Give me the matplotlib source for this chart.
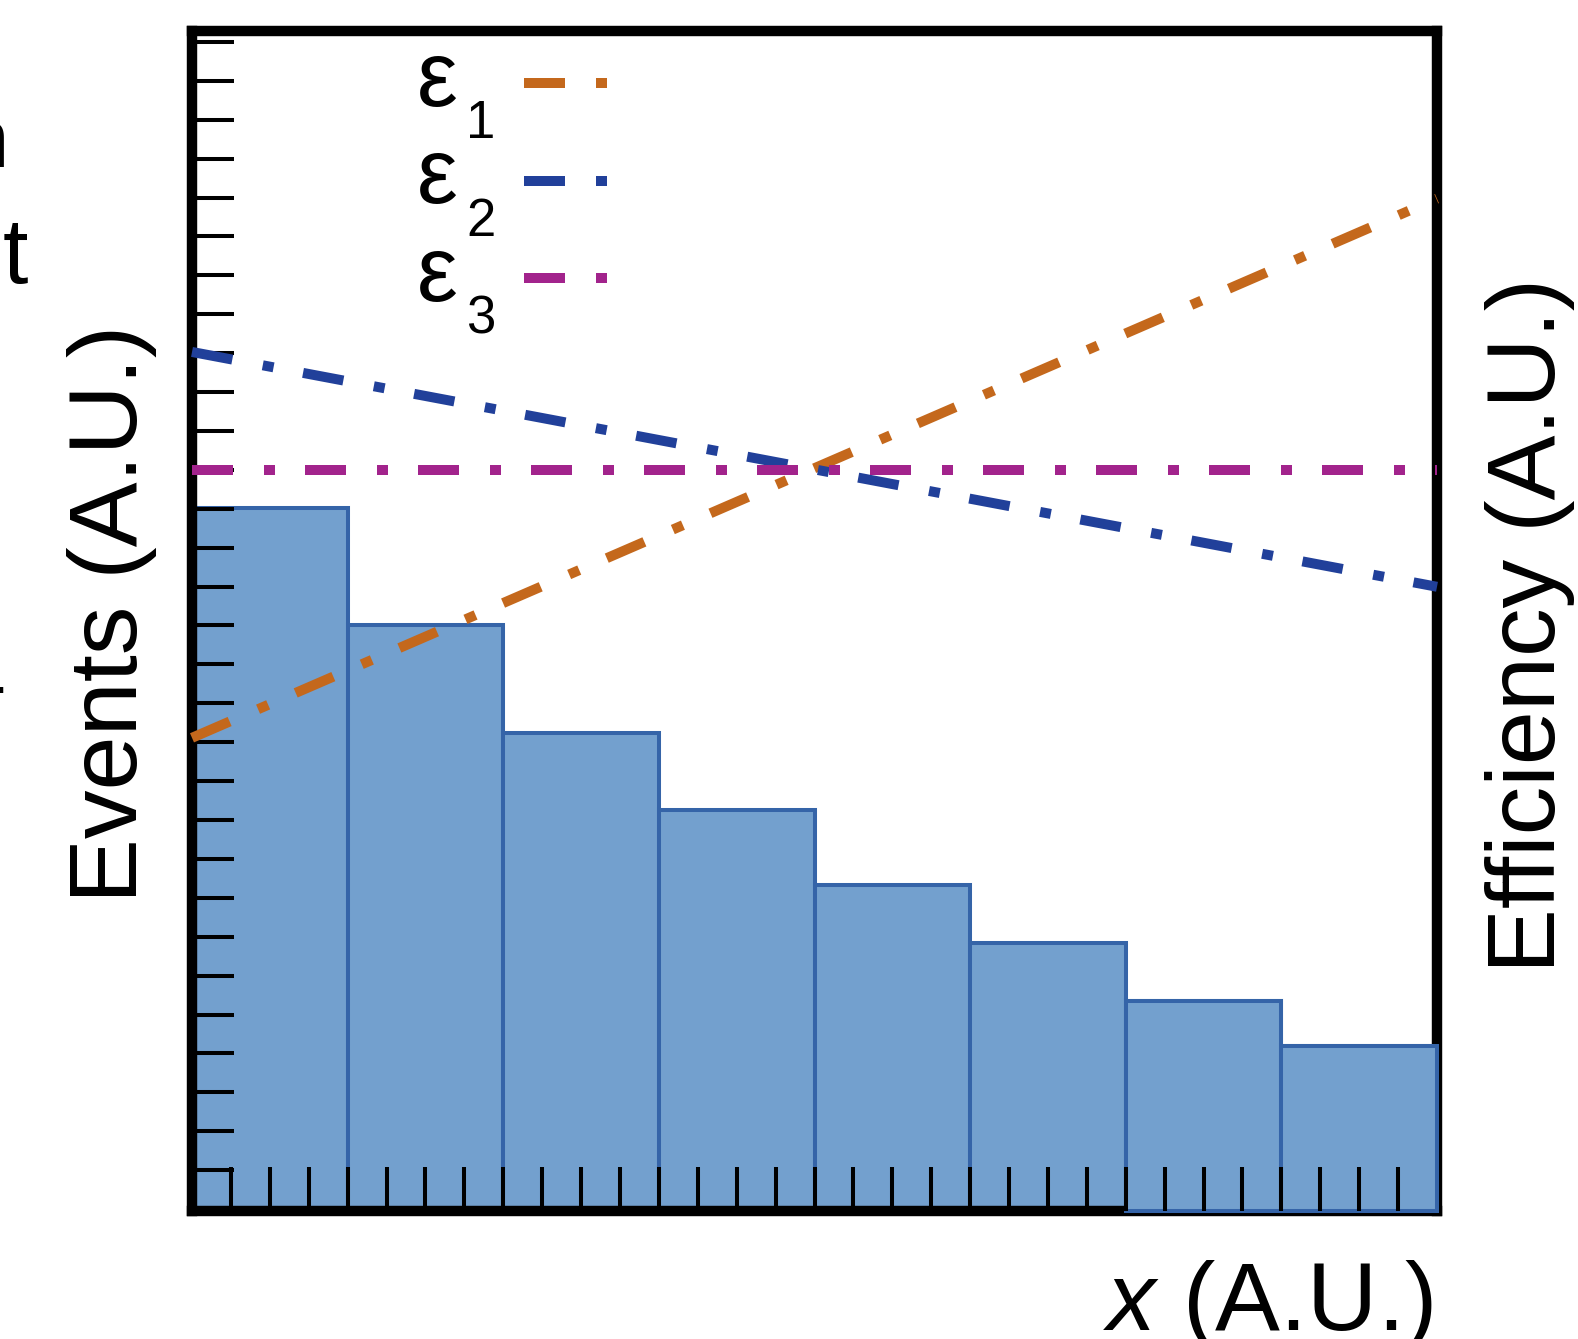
# efficiency vs. events sketch, ROOT-like style

import matplotlib.pyplot as plt
import numpy as np

plt.rcParams['font.family'] = ['Liberation Sans', 'DejaVu Sans']
plt.rcParams['mathtext.fontset'] = 'custom'
plt.rcParams['mathtext.rm'] = 'Liberation Sans'
plt.rcParams['mathtext.it'] = 'Liberation Sans:italic'

# histogram (events, A.U.)
bin_edges = [0, 4, 8, 12, 16, 20, 24, 28, 32]
events = [18.07, 15.06, 12.29, 10.31, 8.38, 6.89, 5.40, 4.24]

# efficiencies (A.U.), straight lines between the x range ends
x_ends = [0, 32]
eff1 = [0.401, 0.858]
eff2 = [0.728, 0.529]
eff3 = [0.628, 0.628]
eff_labels = ['1', '2', '3']
eff_colors = ['#c4681c', '#21409a', '#a2238c']

W, H = 1578, 1339
fig = plt.figure(figsize=(W / 100, H / 100), dpi=100)
ax = fig.add_axes([192 / W, 1 - 1211 / H, (1437 - 192) / W, (1211 - 31) / H])

edges = np.array(bin_edges, dtype=float)
widths = np.diff(edges)
hist_fill = '#73a0ce'
hist_edge = '#3564a8'
ax.bar(edges[:-1], events, width=widths, align='edge', color=hist_fill,
       edgecolor=hist_edge, linewidth=2.9, zorder=1)
# last two bins sit on top of the frame (as in the original rendering)
ax.bar(edges[6:-1], events[6:], width=widths[6:], align='edge', color=hist_fill,
       edgecolor=hist_edge, linewidth=2.9, zorder=2.7, clip_on=False)

ax.set_xlim(0, 32)
ax.set_ylim(0, 30.33)
ax.set_xticks(np.arange(1, 32))
ax.set_yticks(np.arange(30) + 1.05)
ax.xaxis.set_zorder(3)
ax.yaxis.set_zorder(3)
ax.tick_params(axis='y', direction='in', length=30, width=2.9, left=True, right=True,
               labelleft=False, labelright=False)
ax.tick_params(axis='x', direction='in', length=32, width=2.9, bottom=True, top=False,
               labelbottom=False)
for s in ax.spines.values():
    s.set_linewidth(7.5)
    s.set_zorder(2.5)

# efficiency curves on their own scale
ax2 = ax.twinx()
ax2.set_ylim(0, 1)
ax2.set_xlim(0, 32)
ax2.set_axis_off()
dash = (0, (4.1, 3.1, 1.1, 3.0))
for e, c in zip([eff1, eff2, eff3], eff_colors):
    ax2.plot(x_ends, e, color=c, lw=7.2, linestyle=dash, clip_on=False, zorder=4)

# legend drawn by hand (ROOT puts the subscripts low)
for i, (lab, c) in enumerate(zip(eff_labels, eff_colors)):
    dy = 97.5 * i
    fig.text(417 / W, 1 - (106 + dy) / H, '\u03b5', fontsize=66, ha='left', va='baseline')
    fig.text(466 / W, 1 - (138 + dy) / H, lab, fontsize=38, ha='left', va='baseline')
    fig.add_artist(plt.Line2D([524 / W, 607 / W], [1 - (83 + dy) / H] * 2, color=c,
                              lw=7.2, linestyle=dash, transform=fig.transFigure))

# axis titles
fig.text(137 / W, 1 - 614 / H, 'Events (A.U.)', fontsize=70, rotation=90,
         rotation_mode='anchor', ha='center', va='baseline')
fig.text(1555 / W, 1 - 625 / H, 'Efficiency (A.U.)', fontsize=70, rotation=90,
         rotation_mode='anchor', ha='center', va='baseline')
fig.text(1432 / W, 1 - 1330 / H, '$x$ (A.U.)', fontsize=70, ha='right', va='baseline')

# leftovers of the neighbouring panel's text, cut by the frame
fig.text(9 / W, 1 - 167 / H, 'n', fontsize=60, ha='right', va='baseline')
fig.text(28 / W, 1 - 283 / H, 't', fontsize=66, ha='right', va='baseline')
fig.text(6 / W, 1 - 712 / H, '-', fontsize=58, ha='right', va='baseline')

fig.savefig('out.png', dpi=100)
